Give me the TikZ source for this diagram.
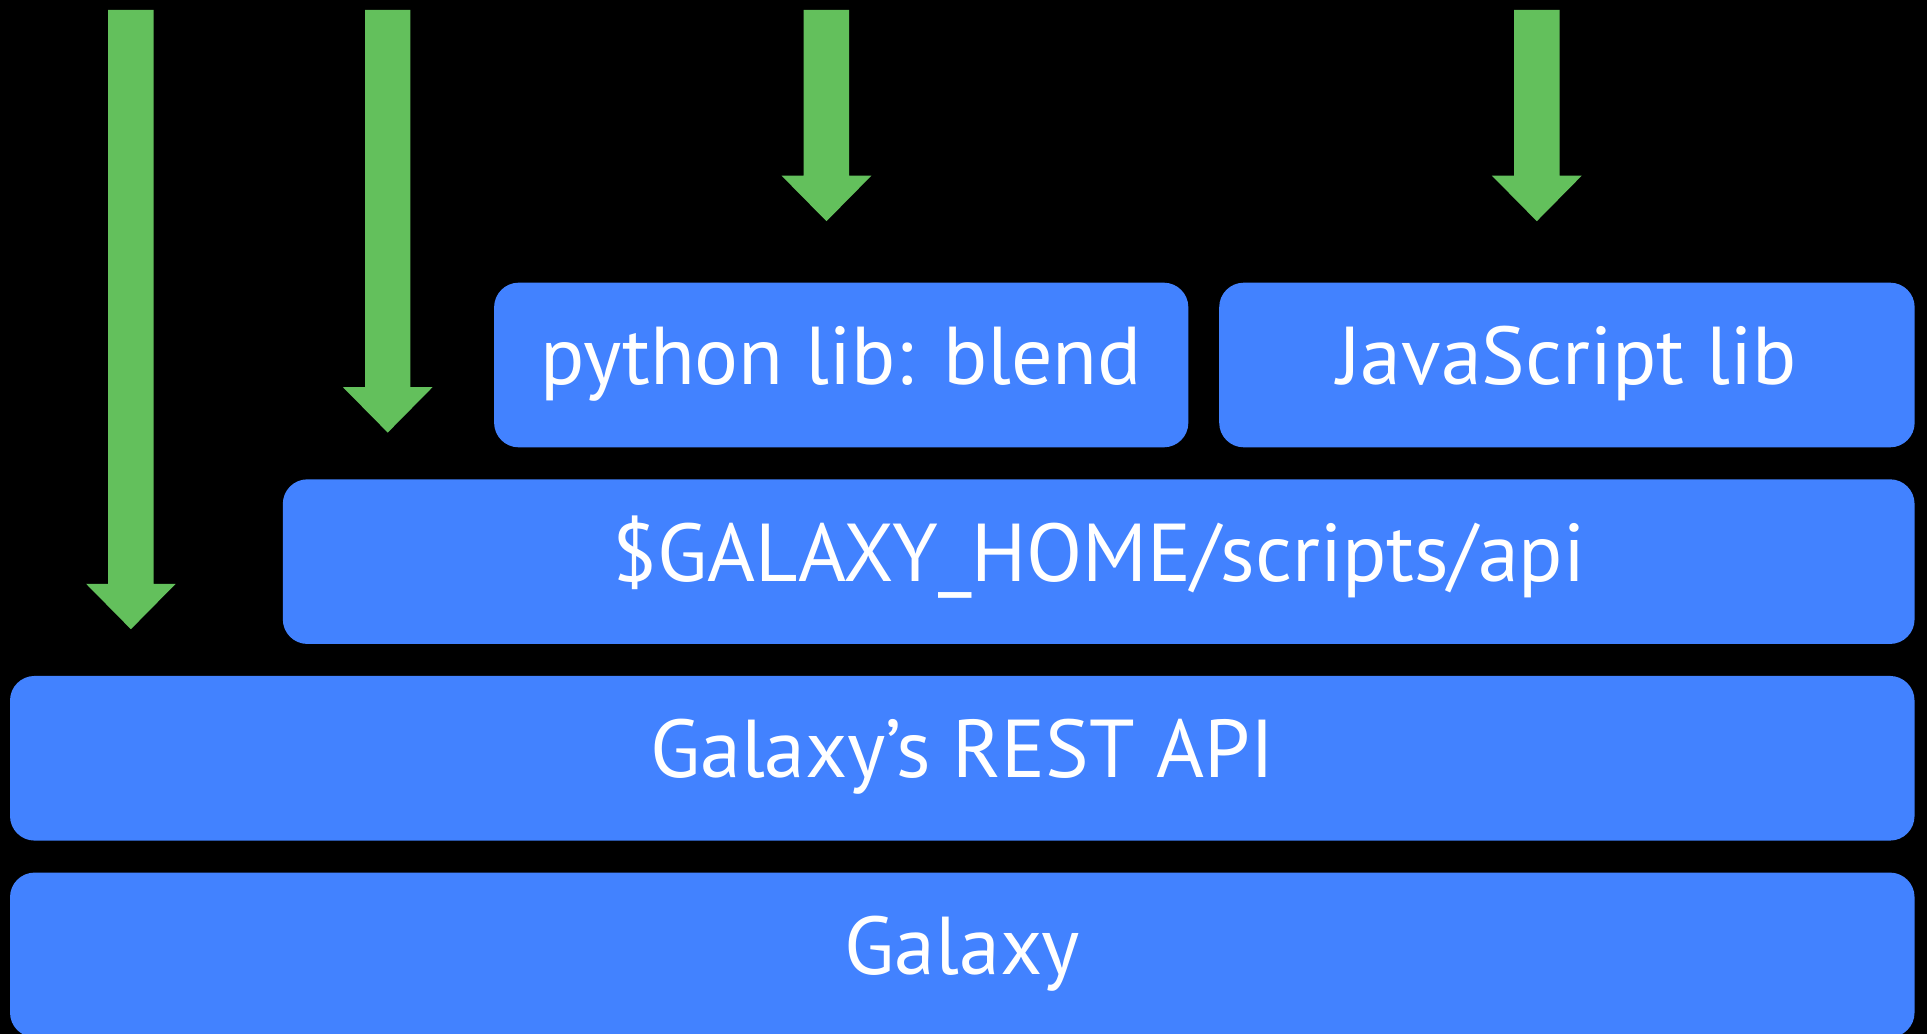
\documentclass[tikz,border=0pt]{standalone}
\usepackage{fontspec}
\setmainfont{PT Sans}
\usetikzlibrary{calc}
\definecolor{boxblue}{RGB}{66,130,255}
\definecolor{arrowgreen}{RGB}{99,192,92}
\tikzset{
  layerbox/.style={fill=boxblue, draw=none, rounded corners=0.4cm, inner sep=0pt, outer sep=0pt,
    text=white, font=\fontsize{38}{44}\selectfont, text height=1.0cm, text depth=0.36cm,
    minimum height=2.68cm, align=center},
  greenarrow/.style={fill=arrowgreen, draw=none}
}
\newcommand\blockarrow[2]{%
  \fill[greenarrow] ($(#1)+(-18.5,0)$) -- ($(#2)+(-18.5,-37)$) -- ($(#2)+(-36.5,-37)$) -- (#2)
    -- ($(#2)+(36.5,-37)$) -- ($(#2)+(18.5,-37)$) -- ($(#1)+(18.5,0)$) -- cycle;}
\begin{document}
\begin{tikzpicture}[x=0.02cm, y=-0.02cm]
  \useasboundingbox (0,0) rectangle (1568,841);
  \fill[black] (0,0) rectangle (1568,841);
  \clip (0,0) rectangle (1568,841);
  % layers
  \node[layerbox, minimum width=11.3cm]  (py)      at (684.5,297) {python lib: blend};
  \node[layerbox, minimum width=11.32cm] (js)      at (1275,297)  {JavaScript lib};
  \node[layerbox, minimum width=26.56cm] (scripts) at (894,457)   {\$GALAXY\_HOME/scripts/api};
  \node[layerbox, minimum width=31.0cm]  (rest)    at (783,617)   {Galaxy’s REST API};
  \node[layerbox, minimum width=31.0cm]  (galaxy)  at (783,777)   {Galaxy};
  % arrows
  \coordinate (a1top) at (106.5,8);  \coordinate (a1tip) at (106.5,512);
  \coordinate (a2top) at (315.5,8);  \coordinate (a2tip) at (315.5,352);
  \coordinate (a3top) at (672.5,8);  \coordinate (a3tip) at (672.5,180);
  \coordinate (a4top) at (1250.5,8); \coordinate (a4tip) at (1250.5,180);
  \blockarrow{a1top}{a1tip}
  \blockarrow{a2top}{a2tip}
  \blockarrow{a3top}{a3tip}
  \blockarrow{a4top}{a4tip}
\end{tikzpicture}
\end{document}
